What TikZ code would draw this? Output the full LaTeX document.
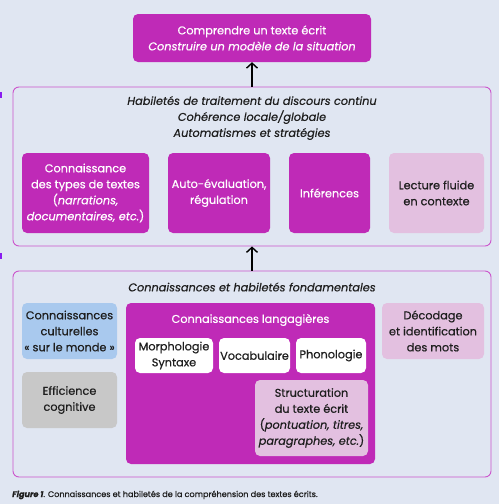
\documentclass[tikz,border=0pt]{standalone}
\usepackage{fontspec}
\setmainfont{Poppins}[FakeBold=0.5]
\usetikzlibrary{arrows.meta}
\definecolor{bg}{HTML}{E0E6F2}
\definecolor{mag}{HTML}{BF2AB7}
\definecolor{pinkl}{HTML}{E3C0E0}
\definecolor{bluel}{HTML}{A9C9EE}
\definecolor{grayl}{HTML}{C8C8C8}
\definecolor{frame}{HTML}{CC55CC}
\definecolor{ink}{HTML}{1E1E1E}
\definecolor{viol}{HTML}{8A1CF0}
\begin{document}
\begin{tikzpicture}[x=1pt,y=-1pt,
  base/.style={rounded corners=5pt,inner sep=0pt,align=center,font=\fontsize{11.3}{16}\selectfont},
  magbox/.style={base,fill=mag,text=white},
  pinkbox/.style={base,fill=pinkl,text=ink},
  bluebox/.style={base,fill=bluel,text=ink},
  graybox/.style={base,fill=grayl,text=ink},
  whitebox/.style={base,fill=white,text=ink},
  framebox/.style={rounded corners=6pt,draw=frame,line width=0.9pt,inner sep=0pt},
  ftitle/.style={align=center,text=ink,font=\fontsize{11.3}{16}\selectfont\itshape,inner sep=0pt},
  uparrow/.style={line width=1.4pt,-{Straight Barb[length=5pt,width=11pt,line width=1.4pt]}}]
\fill[bg] (0,0) rectangle (499,504);
\useasboundingbox (0,0) rectangle (499,504);
\fill[viol] (0,92) rectangle (2,98);
\fill[viol] (0,253) rectangle (2,259);
% top
\node[magbox,minimum width=238pt,minimum height=48pt] (top) at (252,38)
  {Comprendre un texte écrit\\\itshape Construire un modèle de la situation};
% middle frame
\node[framebox,minimum width=478pt,minimum height=159pt] (mid) at (252,166.5) {};
\node[ftitle] (midt) at (252,118) {Habiletés de traitement du discours continu\\Cohérence locale/globale\\Automatismes et stratégies};
\node[magbox,minimum width=127pt,minimum height=80pt] (b1) at (85.5,193)
  {Connaissance\\des types de textes\\(\textit{narrations,}\\\textit{documentaires, etc.})};
\node[magbox,minimum width=102pt,minimum height=80pt] (b2) at (219,193) {Auto-évaluation,\\régulation};
\node[magbox,minimum width=81pt,minimum height=80pt] (b3) at (329.5,193) {Inférences};
\node[pinkbox,minimum width=95pt,minimum height=80pt] (b4) at (436.5,193) {Lecture fluide\\en contexte};
% bottom frame
\node[framebox,minimum width=478pt,minimum height=206pt] (bot) at (252,374) {};
\node[ftitle] (bott) at (252,287) {Connaissances et habiletés fondamentales};
\node[bluebox,minimum width=95pt,minimum height=56pt] (cult) at (69.5,331) {Connaissances\\culturelles\\« sur le monde »};
\node[graybox,minimum width=95pt,minimum height=56pt] (eff) at (69.5,400) {Efficience\\cognitive};
\node[magbox,minimum width=249pt,minimum height=161pt] (lang) at (250.5,383.5) {};
\node[text=white,font=\fontsize{11.3}{16}\selectfont,inner sep=0pt] (langt) at (250.5,320) {Connaissances langagières};
\node[whitebox,minimum width=78pt,minimum height=35pt] (morph) at (174,355.5) {Morphologie\\Syntaxe};
\node[whitebox,minimum width=71pt,minimum height=35pt] (voc) at (254.5,355.5) {Vocabulaire};
\node[whitebox,minimum width=70pt,minimum height=35pt] (phon) at (331,355.5) {Phonologie};
\node[pinkbox,minimum width=113pt,minimum height=76pt] (struct) at (311.5,418)
  {Structuration\\du texte écrit\\(\textit{pontuation, titres,}\\\textit{paragraphes, etc.})};
\node[pinkbox,minimum width=102pt,minimum height=56pt] (dec) at (433,331) {Décodage\\et identification\\des mots};
% arrows
\draw[uparrow] (mid.north) -- (top.south);
\draw[uparrow] (bot.north) -- (mid.south);
% caption
\node[anchor=base west,inner sep=0pt,text=ink,font=\fontsize{8.1}{9}\selectfont] (cap) at (12,497)
  {\textbf{\textit{Figure 1}}. Connaissances et habiletés de la compréhension des textes écrits.};
\end{tikzpicture}
\end{document}
